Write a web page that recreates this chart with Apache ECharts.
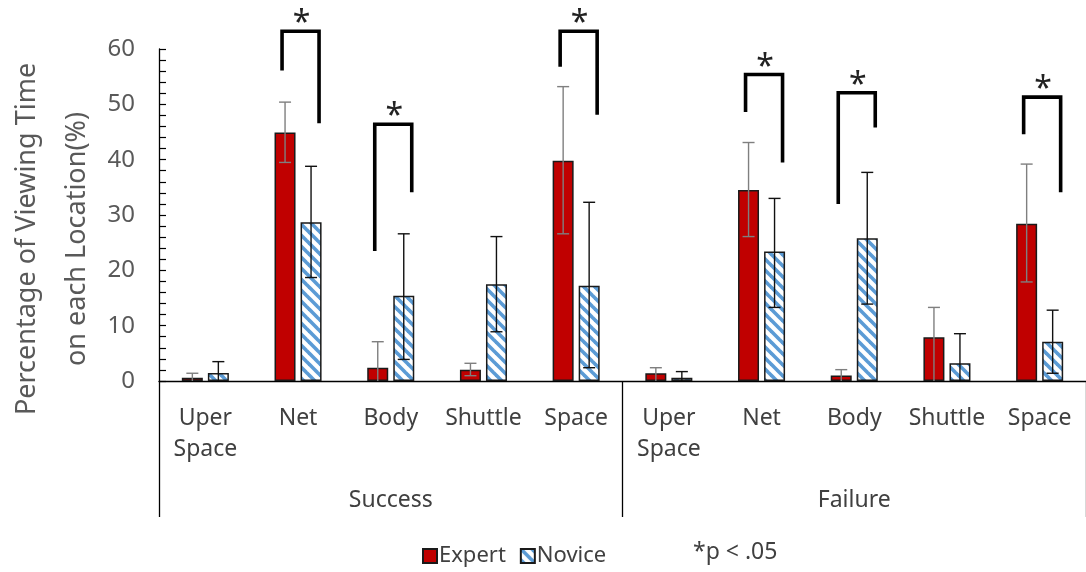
<!DOCTYPE html>
<html>
<head>
<meta charset="utf-8">
<script src="https://cdn.jsdelivr.net/npm/echarts@6/dist/echarts.min.js"></script>
<style>
  html, body { margin: 0; padding: 0; background: #fff; }
  #chart { width: 1086px; height: 572px; }
</style>
</head>
<body>
<div id="chart"></div>
<script>
// Viewing-time share per location, Expert vs Novice, for successful and failed trials
const categories = ['Uper\nSpace', 'Net', 'Body', 'Shuttle', 'Space',
                    'Uper\nSpace', 'Net', 'Body', 'Shuttle', 'Space'];
const groups = ['Success', 'Failure'];
const yTicks = { min: 0, max: 60, step: 10 };

const expertMean = [0.6, 44.9, 2.4, 2.05, 39.8, 1.4, 34.5, 1.0, 7.9, 28.4];
const expertHigh = [1.4, 50.4, 7.1, 3.2, 53.2, 2.4, 43.1, 2.05, 13.3, 39.2];
const expertLow  = [0, 39.5, 0, 0.96, 26.6, 0, 26.1, 0, 0, 17.9];

const noviceMean = [1.45, 28.7, 15.4, 17.5, 17.2, 0.6, 23.4, 25.8, 3.2, 7.1];
const noviceHigh = [3.5, 38.8, 26.6, 26.1, 32.3, 1.7, 33.0, 37.7, 8.55, 12.8];
const noviceLow  = [0, 18.7, 3.9, 8.9, 2.4, 0, 13.3, 13.9, 0, 1.4];

// significance brackets: category index, bracket top, left leg end, right leg end
const sigCategory = [1, 2, 4, 6, 7, 9];
const sigTop      = [63.2, 46.4, 63.2, 55.4, 52.1, 51.3];
const sigLeftEnd  = [56.1, 23.5, 56.8, 48.6, 32.0, 44.6];
const sigRightEnd = [46.6, 34.1, 48.1, 39.5, 45.8, 34.1];

const FONT = '"Noto Sans", "Open Sans", sans-serif';
const BAR_W = 21;
const BAR_SHIFT = 13;

function stripePattern() {
  const s = 11;
  const c = document.createElement('canvas');
  c.width = s; c.height = s;
  const g = c.getContext('2d');
  g.fillStyle = '#ffffff';
  g.fillRect(0, 0, s, s);
  g.strokeStyle = '#5B9BD5';
  g.lineWidth = 3.6;
  for (let k = -1; k <= 1; k++) {
    g.beginPath();
    g.moveTo(k * s - 2, -2);
    g.lineTo(k * s + s + 2, s + 2);
    g.stroke();
  }
  return c;
}

function errorRows(low, high) {
  return low.map((l, i) => [i, l, high[i]]);
}

function errorRenderer(shift, color, width) {
  return function (params, api) {
    const i = api.value(0);
    const lo = api.value(1);
    const hi = api.value(2);
    const x = api.coord([i, 0])[0] + shift;
    const yHi = api.coord([i, hi])[1];
    const yLo = api.coord([i, lo])[1];
    const style = { stroke: color, lineWidth: width };
    const kids = [
      { type: 'line', shape: { x1: x, y1: yLo, x2: x, y2: yHi }, style },
      { type: 'line', shape: { x1: x - 6, y1: yHi, x2: x + 6, y2: yHi }, style }
    ];
    if (lo > 0) {
      kids.push({ type: 'line', shape: { x1: x - 6, y1: yLo, x2: x + 6, y2: yLo }, style });
    }
    return { type: 'group', children: kids };
  };
}

const sigRows = sigCategory.map((c, k) => [c, sigTop[k], sigLeftEnd[k], sigRightEnd[k]]);

function bracketRenderer(params, api) {
  const i = api.value(0);
  const top = api.coord([i, api.value(1)]);
  const yL = api.coord([i, api.value(2)])[1];
  const yR = api.coord([i, api.value(3)])[1];
  const xl = top[0] - 16;
  const xr = top[0] + 21;
  return {
    type: 'group',
    children: [
      {
        type: 'polyline',
        shape: { points: [[xl, yL], [xl, top[1]], [xr, top[1]], [xr, yR]] },
        style: { stroke: '#000', lineWidth: 3.6, fill: null, lineJoin: 'miter' }
      },
      {
        type: 'text',
        style: {
          x: (xl + xr) / 2 + 1, y: top[1] - 7,
          text: '*', fontSize: 32, fontFamily: FONT, fill: '#222',
          align: 'center', verticalAlign: 'middle'
        }
      }
    ]
  };
}

const chart = echarts.init(document.getElementById('chart'), null, { renderer: 'canvas' });

chart.setOption({
  animation: false,
  backgroundColor: '#ffffff',
  textStyle: { fontFamily: FONT },
  grid: { left: 159, top: 49, width: 934, height: 332, containLabel: false },
  legend: {
    data: ['Expert', 'Novice'],
    left: 417, top: 540,
    icon: 'rect',
    itemWidth: 14, itemHeight: 14, itemGap: 14,
    textStyle: { fontSize: 22, color: '#404040', fontFamily: FONT, padding: [0, 0, 0, -3] }
  },
  graphic: [
    {
      type: 'text',
      x: 52, y: 239,
      rotation: Math.PI / 2,
      style: {
        text: 'Percentage of Viewing Time\non each Location(%)',
        fontSize: 27, lineHeight: 50, fontFamily: FONT, fill: '#595959',
        align: 'center', verticalAlign: 'middle'
      }
    },
    {
      type: 'text',
      x: 693, y: 552,
      style: {
        text: '*p < .05', fontSize: 23, fontFamily: FONT, fill: '#404040',
        align: 'left', verticalAlign: 'middle'
      }
    }
  ],
  xAxis: [
    {
      type: 'category',
      data: categories,
      axisLine: { lineStyle: { color: '#000', width: 1.3 } },
      axisTick: { show: false },
      axisLabel: {
        interval: 0, margin: 22, fontSize: 23, lineHeight: 31,
        color: '#404040', fontFamily: FONT
      },
      splitLine: { show: false }
    },
    {
      type: 'category',
      data: groups,
      position: 'bottom',
      axisLine: { show: false },
      axisTick: { show: true, length: 136, lineStyle: { color: '#000', width: 1.3 } },
      axisLabel: { margin: 108, fontSize: 23, color: '#404040', fontFamily: FONT },
      splitLine: { show: false }
    }
  ],
  yAxis: {
    type: 'value',
    min: yTicks.min, max: yTicks.max, interval: yTicks.step,
    axisLine: { show: true, lineStyle: { color: '#000', width: 1.3 } },
    axisTick: { show: true, inside: true, length: 7, lineStyle: { color: '#000', width: 1.2 } },
    minorTick: { show: true, splitNumber: 5, length: 7, lineStyle: { color: '#000', width: 1.2 } },
    splitLine: { show: false },
    minorSplitLine: { show: false },
    axisLabel: { margin: 24, fontSize: 24, color: '#595959', fontFamily: FONT }
  },
  series: [
    {
      name: 'Expert',
      type: 'bar',
      data: expertMean,
      barWidth: BAR_W,
      barGap: '24%',
      itemStyle: { color: '#C00000', borderColor: '#1a1a1a', borderWidth: 1.5 },
      z: 2
    },
    {
      name: 'Novice',
      type: 'bar',
      data: noviceMean,
      barWidth: BAR_W,
      barGap: '24%',
      itemStyle: {
        color: { image: stripePattern(), repeat: 'repeat' },
        borderColor: '#1a1a1a', borderWidth: 1.5
      },
      z: 2
    },
    {
      type: 'custom',
      data: errorRows(expertLow, expertHigh),
      renderItem: errorRenderer(-BAR_SHIFT, '#7f7f7f', 1.4),
      clip: false, silent: true, z: 5
    },
    {
      type: 'custom',
      data: errorRows(noviceLow, noviceHigh),
      renderItem: errorRenderer(BAR_SHIFT, '#111', 1.4),
      clip: false, silent: true, z: 5
    },
    {
      type: 'custom',
      data: sigRows,
      renderItem: bracketRenderer,
      clip: false, silent: true, z: 6
    }
  ]
});
</script>
</body>
</html>
